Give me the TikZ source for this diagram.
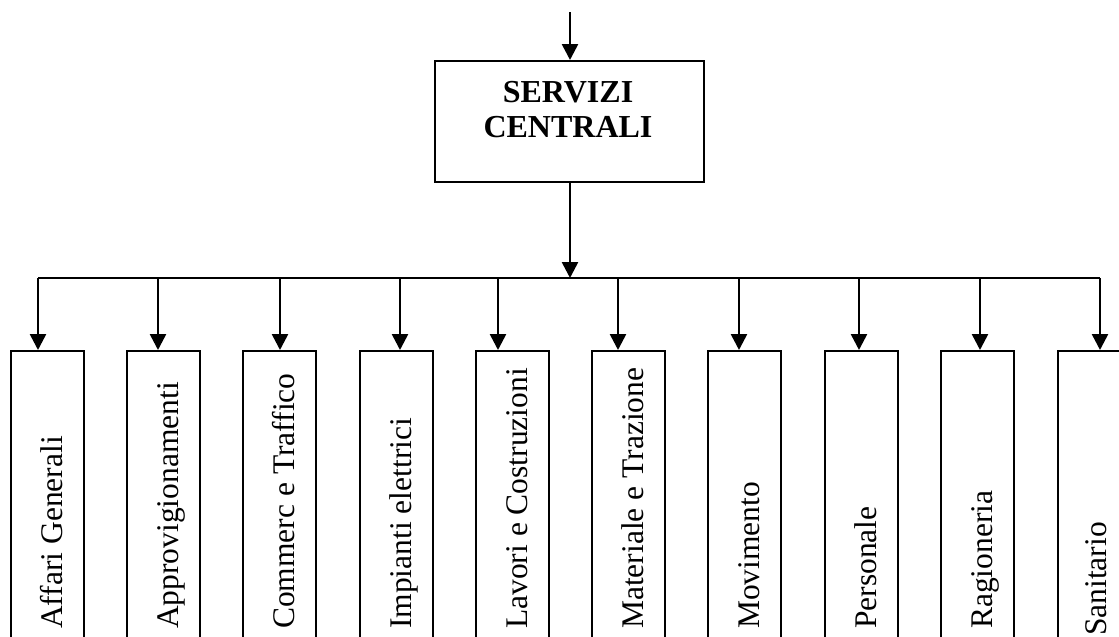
\documentclass[tikz,border=0pt]{standalone}
\usepackage{fontspec}
\setmainfont{Liberation Serif}
\usetikzlibrary{arrows.meta}
\begin{document}
\begin{tikzpicture}[x=1pt,y=-1pt,
  link/.style={line width=2pt},
  feed/.style={line width=2.6pt,-{Triangle[width=16pt,length=16pt]}},
  head/.style={draw,line width=2pt,minimum width=269pt,minimum height=121pt,inner sep=0pt},
  title/.style={inner sep=0pt,align=center,font=\fontsize{32}{35.5}\selectfont\bfseries},
  dept/.style={draw,line width=2pt,minimum width=72.5pt,minimum height=320pt,anchor=north west,inner sep=0pt},
  deptlabel/.style={rotate=90,anchor=base west,inner sep=0pt,font=\fontsize{31.5}{36}\selectfont}]
\clip (0,0) rectangle (1119,637);
\fill[white] (0,0) rectangle (1119,637);

% central office
\coordinate (in) at (570,12);
\node[head] (sc) at (569.5,121.5) {};
\node[title] (sctitle) at (568,109.5) {SERVIZI\\CENTRALI};
\draw[feed] (in) -- (in |- sc.north);

% distribution bus
\coordinate (hub) at (570,278);
\draw[feed] (hub |- sc.south) -- (hub);

% departments: index / box left edge / feed x / label / label start
\foreach \i/\bx/\ax/\lab/\ly in {
  1/10/38/Affari Generali/629,
  2/126/158/Approvigionamenti/629,
  3/242/280/Commerc e Traffico/629,
  4/359/400/Impianti elettrici/629,
  5/475/498/Lavori e Costruzioni/629,
  6/591/618/Materiale e Trazione/629,
  7/707/739/Movimento/629,
  8/824/859/Personale/629,
  9/940/980/Ragioneria/629}{
  \node[dept] (d\i) at (\bx,350) {};
  \node[deptlabel] (l\i) at (\bx+52,\ly) {\lab};
  \coordinate (b\i) at (\ax,278);
  \draw[feed] (b\i) -- (b\i |- d\i.north);
}
\node[dept,minimum width=61.5pt] (d10) at (1057,350) {};
\node[deptlabel] (l10) at (1106,636) {Sanitario};
\coordinate (b10) at (1100,278);
\draw[feed] (b10) -- (b10 |- d10.north);

\draw[link] (b1) -- (b10);
\end{tikzpicture}
\end{document}
